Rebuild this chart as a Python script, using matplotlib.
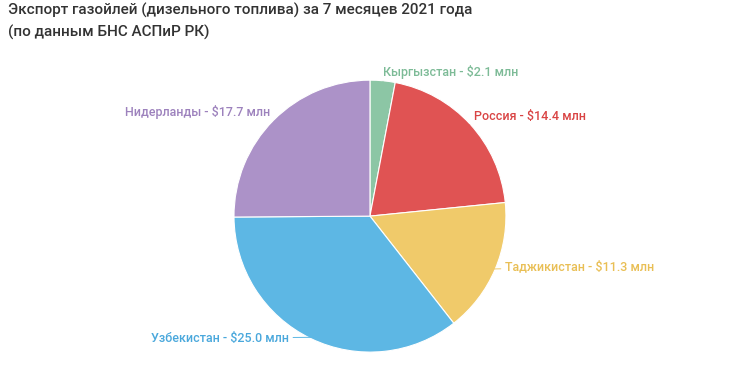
import numpy as np
import matplotlib.pyplot as plt

plt.rcParams['font.family'] = ['Roboto', 'DejaVu Sans']

countries = ["Кыргызстан", "Россия", "Таджикистан", "Узбекистан", "Нидерланды"]
values = [2.1, 14.4, 11.3, 25.0, 17.7]
colors = ["#8cc6a5", "#e05353", "#f0ca6a", "#5db7e4", "#ac92c8"]
text_colors = ["#7dbb97", "#d94444", "#e9bf55", "#4aa8dc", "#9d82bd"]

# label anchor points in pie-radius units
label_pos = [(0.096, 1.06), (0.765, 0.735), (0.993, -0.375),
             (-0.596, -0.897), (-0.735, 0.765)]

fig = plt.figure(figsize=(7.3, 3.66), dpi=100)
ax = fig.add_axes([0.3205, 0.038, 0.3726, 0.743])

wedges, _ = ax.pie(values, colors=colors, startangle=90, counterclock=False,
                   wedgeprops=dict(edgecolor="white", linewidth=0.8))
ax.set_aspect("equal")
ax.set_xlim(-1, 1)
ax.set_ylim(-1, 1)

for w, name, val, tc, c, pos in zip(wedges, countries, values, text_colors, colors, label_pos):
    ang = np.deg2rad((w.theta1 + w.theta2) / 2)
    x, y = np.cos(ang), np.sin(ang)
    ha = "left" if pos[0] >= 0 else "right"
    ax.annotate(f"{name} - ${val:.1f} млн", xy=(0.99 * x, 0.99 * y),
                xytext=pos, ha=ha, va="center", fontsize=9, color=tc,
                weight="medium",
                arrowprops=dict(arrowstyle="-", color=c, linewidth=0.7,
                                shrinkA=1, shrinkB=0),
                annotation_clip=False)

fig.text(8 / 730, 1 - 3 / 366,
         "Экспорт газойлей (дизельного топлива) за 7 месяцев 2021 года\n(по данным БНС АСПиР РК)",
         ha="left", va="top", fontsize=11, color="#333333", weight="medium",
         linespacing=1.55)

plt.savefig("out.png", dpi=100)
